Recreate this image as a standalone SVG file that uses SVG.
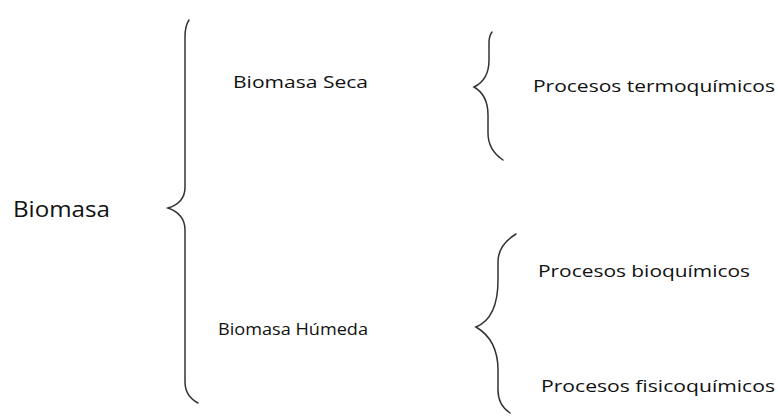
<svg xmlns="http://www.w3.org/2000/svg" width="778" height="417" viewBox="0 0 778 417">
<style>
.t{font-family:"Open Sans","Liberation Sans",sans-serif;fill:#111;}
.s{font-size:17px;}
.b{font-size:22px;}
.br{fill:none;stroke:#333;stroke-width:1.5;stroke-linecap:round;}
</style>
<rect width="778" height="417" fill="#fff"/>
<g id="connectors">
<path class="br" d="M189,20 Q185,26 185,37 L185,187 Q185,203 168,208 Q185,214 185,230 L185,382 Q185,396 198,403"/>
<path class="br" d="M492,32 Q489,36 489,43 L489,60 Q489,80 474,87 Q488,95 488,115 L488,133 Q488,150 503,160"/>
<path class="br" d="M516,234 Q498,245 498,262 L498,280 Q498,318 476,327 Q498,340 498,370 L498,390 Q498,405 510,413"/>
</g>
<g id="biomasa"><text class="t b" x="13" y="217" textLength="97" lengthAdjust="spacingAndGlyphs">Biomasa</text></g>
<g id="seca"><text class="t s" x="233" y="88" textLength="135" lengthAdjust="spacingAndGlyphs">Biomasa Seca</text></g>
<g id="humeda"><text class="t s" x="218" y="335" textLength="150" lengthAdjust="spacingAndGlyphs">Biomasa Húmeda</text></g>
<g id="termo"><text class="t s" x="533" y="92" textLength="242" lengthAdjust="spacingAndGlyphs">Procesos termoquímicos</text></g>
<g id="bio"><text class="t s" x="538" y="277" textLength="212" lengthAdjust="spacingAndGlyphs">Procesos bioquímicos</text></g>
<g id="fisico"><text class="t s" x="541" y="392" textLength="234" lengthAdjust="spacingAndGlyphs">Procesos fisicoquímicos</text></g>
</svg>
